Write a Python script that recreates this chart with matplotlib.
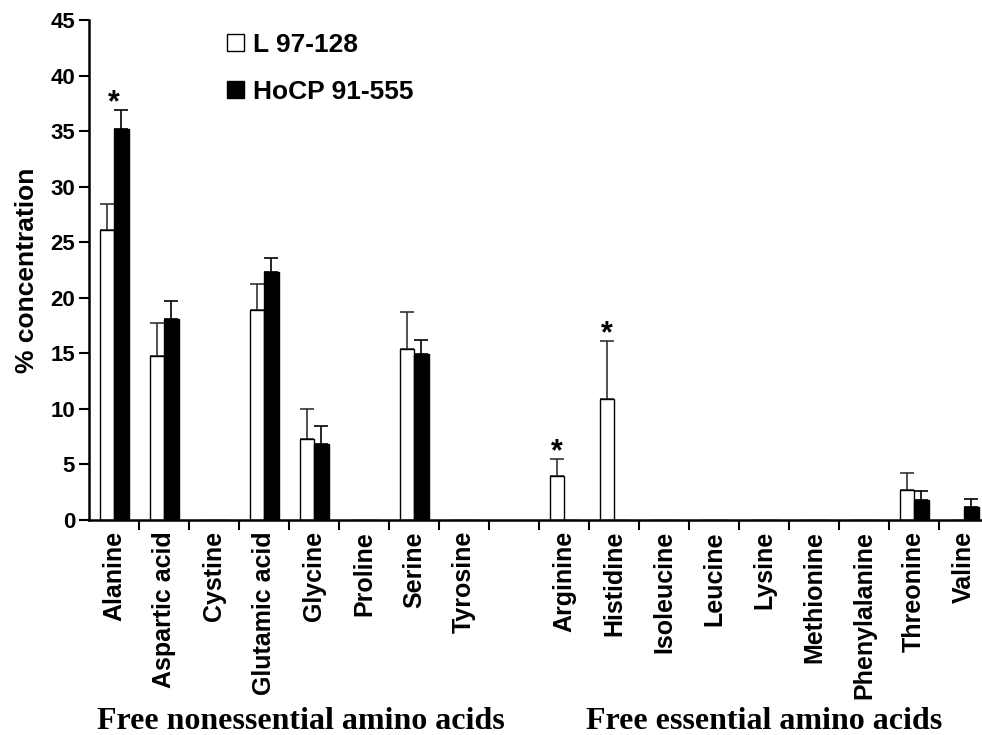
import numpy as np
import matplotlib
matplotlib.use("Agg")
import matplotlib.pyplot as plt

# amino acids, nonessential then essential (one empty slot between the groups)
nonessential = ["Alanine", "Aspartic acid", "Cystine", "Glutamic acid",
                "Glycine", "Proline", "Serine", "Tyrosine"]
essential = ["Arginine", "Histidine", "Isoleucine", "Leucine", "Lysine",
             "Methionine", "Phenylalanine", "Threonine", "Valine"]

# % concentration and upper error (SD)
l97_mean = [26.1, 14.8, 0, 18.9, 7.3, 0, 15.4, 0,
            4.0, 10.9, 0, 0, 0, 0, 0, 2.7, 0]
l97_err = [2.3, 2.9, 0, 2.3, 2.7, 0, 3.3, 0,
           1.5, 5.2, 0, 0, 0, 0, 0, 1.5, 0]
hocp_mean = [35.2, 18.1, 0, 22.3, 6.8, 0, 14.9, 0,
             0, 0, 0, 0, 0, 0, 0, 1.8, 1.2]
hocp_err = [1.7, 1.6, 0, 1.3, 1.7, 0, 1.3, 0,
            0, 0, 0, 0, 0, 0, 0, 0.8, 0.7]

# significant differences (category, which series carries the star)
stars = [("Alanine", "hocp"), ("Arginine", "l97"), ("Histidine", "l97")]

labels = nonessential + essential
x = np.array(list(range(len(nonessential))) +
             [len(nonessential) + 1 + i for i in range(len(essential))], dtype=float)
l97_mean = np.array(l97_mean)
hocp_mean = np.array(hocp_mean)
l97_err = np.array(l97_err)
hocp_err = np.array(hocp_err)

sans = "Liberation Sans"
serif = "Liberation Serif"

fig = plt.figure(figsize=(9.82, 7.35), dpi=100)
ax = fig.add_axes([89 / 982, 215 / 735, 893 / 982, 500 / 735])

w = 0.29
ax.bar(x - w / 2, l97_mean, w, color="white", edgecolor="black", linewidth=1.0,
       label="L 97-128", zorder=2)
ax.bar(x + w / 2, hocp_mean, w, color="black", edgecolor="black", linewidth=1.0,
       label="HoCP 91-555", zorder=2)

# upper-only error bars, skip empty ones
m = l97_err > 0
ax.errorbar(x[m] - w / 2, l97_mean[m], yerr=[np.zeros(m.sum()), l97_err[m]],
            fmt="none", ecolor="#333333", elinewidth=1.2, capsize=5, capthick=1.2, zorder=1)
m = hocp_err > 0
ax.errorbar(x[m] + w / 2, hocp_mean[m], yerr=[np.zeros(m.sum()), hocp_err[m]],
            fmt="none", ecolor="black", elinewidth=1.2, capsize=5, capthick=1.2, zorder=1)

for name, series in stars:
    i = labels.index(name)
    if series == "hocp":
        xs, top = x[i], hocp_mean[i] + hocp_err[i]
    else:
        xs, top = x[i] - w / 2, l97_mean[i] + l97_err[i]
    ax.annotate("*", (xs, top), xytext=(0, -6), textcoords="offset points",
                ha="center", va="bottom", fontsize=22, fontweight="bold",
                family=sans)

ax.set_xlim(-0.5, -0.5 + 893 / 50)
ax.set_ylim(0, 45)
ax.set_yticks(range(0, 46, 5))
for lab in ax.get_yticklabels():
    lab.set_fontfamily(sans)
    lab.set_fontweight("bold")
    lab.set_fontsize(16)

# ticks on slot boundaries, labels at slot centres
ax.set_xticks(np.arange(0.5, 17, 1.0))
ax.set_xticklabels([])
ax.set_xticks(x, minor=True)
ax.set_xticklabels(labels, minor=True, rotation=90, fontsize=18,
                   fontweight="bold", family=sans)
ax.tick_params(axis="x", which="minor", length=0, pad=8)
ax.tick_params(axis="both", which="major", direction="out", length=7, width=1.5,
               color="black")
ax.tick_params(axis="y", pad=3)

for s in ["top", "right"]:
    ax.spines[s].set_visible(False)
for s in ["left", "bottom"]:
    ax.spines[s].set_linewidth(1.8)

ax.set_ylabel("% concentration", fontsize=19, fontweight="bold", family=sans,
              labelpad=8)

ax.legend(loc="upper left", bbox_to_anchor=(214 / 982, 1 - 20 / 735),
          bbox_transform=fig.transFigure, frameon=False, borderpad=0,
          handlelength=0.62, handleheight=0.62, handletextpad=0.35,
          labelspacing=0.85, prop={"family": sans, "weight": "bold", "size": 19})

fig.text(301 / 982, 1 - 729 / 735, "Free nonessential amino acids", ha="center",
         va="baseline", fontsize=23, fontweight="bold", family=serif)
fig.text(764 / 982, 1 - 729 / 735, "Free essential amino acids", ha="center",
         va="baseline", fontsize=23, fontweight="bold", family=serif)

fig.savefig("out.png", dpi=100)
